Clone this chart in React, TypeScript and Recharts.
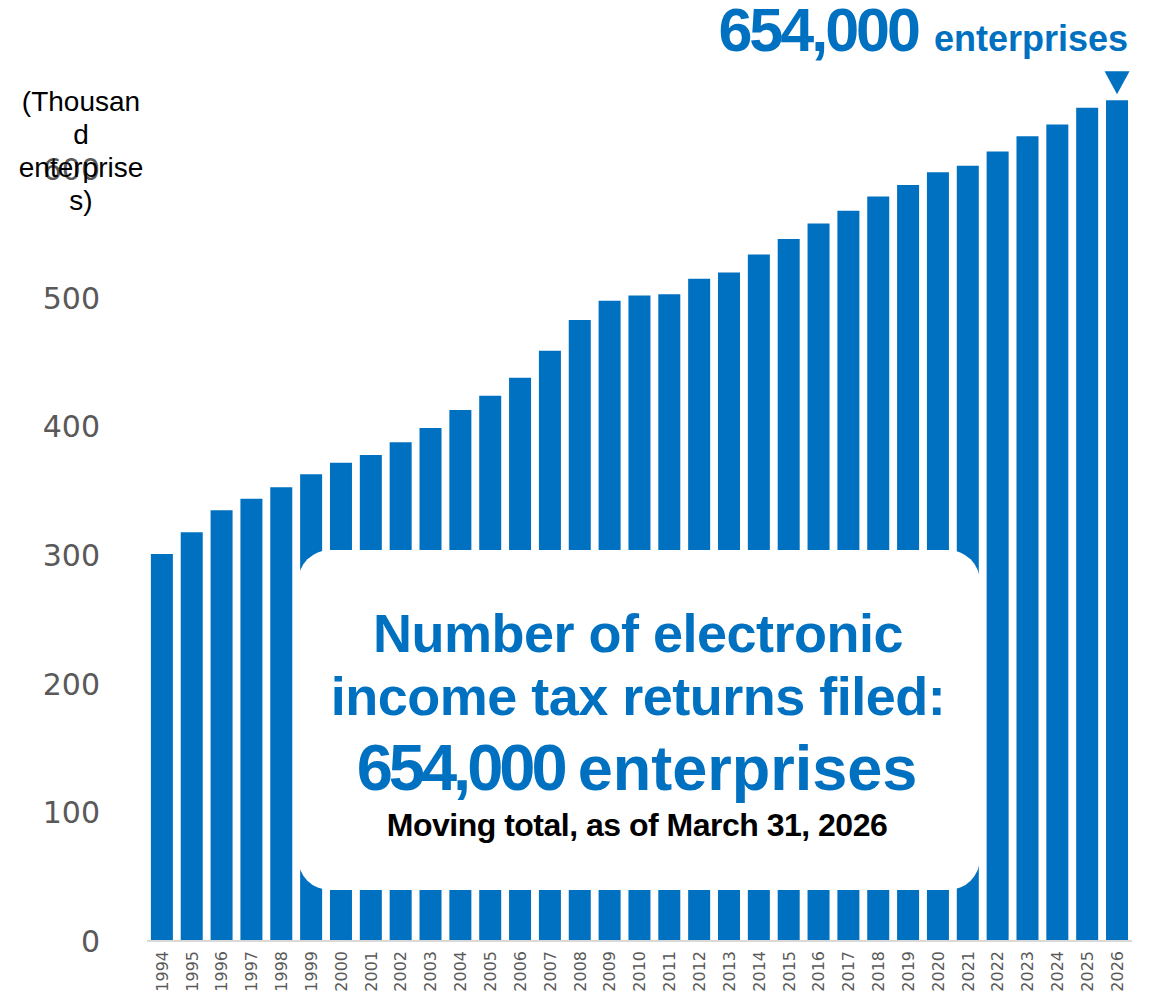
import React from 'react';
import { BarChart, Bar, XAxis, YAxis, LabelList } from 'recharts';

const years = [
  '1994', '1995', '1996', '1997', '1998', '1999', '2000', '2001', '2002', '2003', '2004',
  '2005', '2006', '2007', '2008', '2009', '2010', '2011', '2012', '2013', '2014', '2015',
  '2016', '2017', '2018', '2019', '2020', '2021', '2022', '2023', '2024', '2025', '2026',
];
const values = [
  301, 318, 335, 344, 353, 363, 372, 378, 388, 399, 413,
  424, 438, 459, 483, 498, 502, 503, 515, 520, 534, 546,
  558, 568, 579, 588, 598, 603, 614, 626, 635, 648, 654,
];
const yTicks = [0, 100, 200, 300, 400, 500, 600];
const yLabelLines = ['(Thousan', 'd', 'enterprise', 's)'];
const boxLines = ['Number of electronic', 'income tax returns filed:'];
const boxTotal = '654,000';
const boxUnit = 'enterprises';
const boxNote = 'Moving total, as of March 31, 2026';

const data = years.map((year, i) => ({ year, value: values[i] }));

const BLUE = '#0070C0';
const ARIAL = '"Liberation Sans", Arial, sans-serif';
const TICKFONT = '"DejaVu Sans", Verdana, sans-serif';

const XTick = (props: any) => {
  const { x, y, payload } = props;
  return (
    <text
      transform={`translate(${x},${y + 2}) rotate(-90)`}
      textAnchor="end"
      dy="0.36em"
      fill="#595959"
      fontSize={16}
      fontFamily={TICKFONT}
    >
      {payload.value}
    </text>
  );
};

const TopMarker = (props: any) => {
  const { x, y, width, index, value } = props;
  if (index !== values.length - 1) return null;
  const cx = x + width / 2;
  const label = (value * 1000).toLocaleString('en-US');
  return (
    <g>
      <polygon points={`${cx - 12.5},${y - 29} ${cx + 12.5},${y - 29} ${cx},${y - 6}`} fill={BLUE} />
      <text x={x + width} y={y - 49} textAnchor="end" fill={BLUE} fontFamily={ARIAL} fontWeight="bold">
        <tspan fontSize={61} letterSpacing={-3}>{label}</tspan>
        <tspan fontSize={36} dx={16}>enterprises</tspan>
      </text>
    </g>
  );
};

export default function App() {
  return (
    <div style={{ position: 'absolute', left: 0, top: 0, width: 1160, height: 994, background: '#fff' }}>
      <BarChart
        width={1160}
        height={994}
        data={data}
        margin={{ top: 41, right: 28, bottom: 0, left: 0 }}
        barCategoryGap="13%"
      >
        <XAxis
          dataKey="year"
          interval={0}
          height={53}
          tickLine={false}
          axisLine={{ stroke: '#d9d9d9', strokeWidth: 2 }}
          tick={<XTick />}
        />
        <YAxis
          domain={[0, 700]}
          ticks={yTicks}
          width={147}
          axisLine={false}
          tickLine={false}
          tickMargin={41}
          tick={{ fill: '#595959', fontSize: 30, fontFamily: TICKFONT }}
        />
        <Bar dataKey="value" fill={BLUE} isAnimationActive={false}>
          <LabelList dataKey="value" content={<TopMarker />} />
        </Bar>
      </BarChart>
      <svg
        width={1160}
        height={994}
        style={{ position: 'absolute', left: 0, top: 0, pointerEvents: 'none' }}
      >
        <g fontFamily={ARIAL} fontSize={28} fill="#000" textAnchor="middle">
          {yLabelLines.map((t, i) => (
            <text key={i} x={81} y={111 + i * 33}>{t}</text>
          ))}
        </g>
        <rect x={298} y={550} width={682} height={340} rx={32} ry={32} fill="#fff" />
        <g fontFamily={ARIAL} fontWeight="bold" textAnchor="middle">
          {boxLines.map((t, i) => (
            <text key={i} x={638} y={652 + i * 63} fill={BLUE} fontSize={54} letterSpacing={-0.5}>{t}</text>
          ))}
          <text x={637} y={790} fill={BLUE}>
            <tspan fontSize={65} letterSpacing={-4}>{boxTotal}</tspan>
            <tspan fontSize={63} dx={14}>{boxUnit}</tspan>
          </text>
          <text x={637} y={836} fill="#000" fontSize={32} letterSpacing={-0.5}>{boxNote}</text>
        </g>
      </svg>
    </div>
  );
}
